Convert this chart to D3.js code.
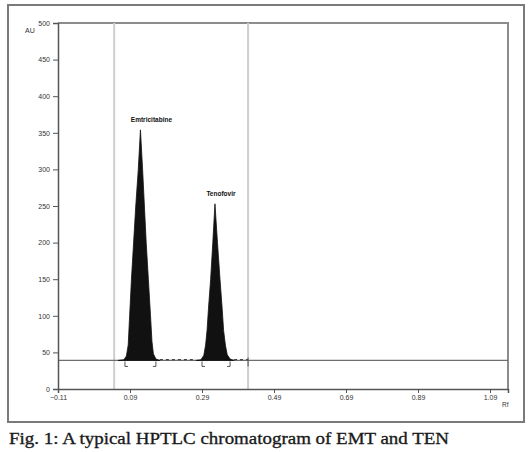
<!DOCTYPE html>
<html><head><meta charset="utf-8">
<script src="https://cdn.jsdelivr.net/npm/d3@7"></script>
<style>body{margin:0;background:#fff}svg{display:block}</style>
</head><body>
<svg id="c" width="532" height="452"></svg>
<script>
// ---- data ----
const yTicks = [0, 50, 100, 150, 200, 250, 300, 350, 400, 450, 500];
const xTicks = [-0.11, 0.09, 0.29, 0.49, 0.69, 0.89, 1.09];
const baselineAU = 39;
// chromatogram trace (Rf, AU) for the two peaks
const peak1Rf = [0.057,0.073,0.080,0.085,0.089,0.094,0.100,0.106,0.113,0.119,0.125,0.130,0.135,0.141,0.147,0.151,0.155,0.162,0.173];
const peak1AU = [39,40,45,60,100,150,200,250,300,354,300,250,200,150,100,65,48,41,39];
const peak2Rf = [0.273,0.287,0.295,0.300,0.304,0.308,0.314,0.320,0.326,0.333,0.340,0.346,0.350,0.355,0.360,0.368,0.379];
const peak2AU = [39,40,46,60,80,110,150,200,253,200,150,110,80,60,47,41,39];
const peakNames = ["Emtricitabine", "Tenofovir"];
const peakApexRf = [0.119, 0.326];
const peakApexAU = [354, 253];
const integStartRf = [0.076, 0.290];
const integEndRf = [0.162, 0.368];
const trackLinesRf = [0.046, 0.418];
const noiseRf = [[0.173, 0.273], [0.379, 0.418]];
const caption = "Fig. 1: A typical HPTLC chromatogram of EMT and TEN";

// ---- drawing ----
const svg = d3.select("#c");
const x = d3.scaleLinear().domain([-0.11, 1.14]).range([58, 508]);
const y = d3.scaleLinear().domain([0, 500]).range([389, 23]);

// outer frame
svg.append("rect").attr("x", 8).attr("y", 5).attr("width", 516).attr("height", 417)
  .attr("fill", "none").attr("stroke", "#7a7a7a").attr("stroke-width", 2);

// plot border (top/right)
svg.append("path")
  .attr("d", `M${x(-0.11)},${y(500)}H${x(1.14)}V${y(0)}`)
  .attr("fill", "none").attr("stroke", "#8c8c8c").attr("stroke-width", 2);

// track lines
svg.selectAll(".track").data(trackLinesRf).enter().append("line")
  .attr("x1", d => x(d)).attr("x2", d => x(d))
  .attr("y1", y(500)).attr("y2", y(0))
  .attr("stroke", "#cfcfcf").attr("stroke-width", 2);

// baseline
svg.append("line").attr("x1", x(-0.11)).attr("x2", x(1.14))
  .attr("y1", y(baselineAU)).attr("y2", y(baselineAU))
  .attr("stroke", "#6e6e6e").attr("stroke-width", 1.3);

// noise
svg.selectAll(".noise").data(noiseRf).enter().append("line")
  .attr("x1", d => x(d[0])).attr("x2", d => x(d[1]))
  .attr("y1", y(baselineAU + 1)).attr("y2", y(baselineAU + 1))
  .attr("stroke", "#444").attr("stroke-width", 1.2).attr("stroke-dasharray", "3,3");

// peaks
const area = d3.area().x(d => x(d[0])).y0(y(baselineAU)).y1(d => y(d[1]));
[[peak1Rf, peak1AU], [peak2Rf, peak2AU]].forEach(([rf, au]) => {
  const pts = rf.map((r, i) => [r, au[i]]);
  svg.append("path").datum(pts).attr("d", area)
    .attr("fill", "#111").attr("stroke", "#111").attr("stroke-width", 0.8);
});

// integration markers
const by = y(baselineAU);
integStartRf.forEach(r => {
  svg.append("path").attr("d", `M${x(r)},${by + 1}V${by + 6}h3`)
    .attr("fill", "none").attr("stroke", "#555").attr("stroke-width", 1);
});
integEndRf.forEach(r => {
  svg.append("path").attr("d", `M${x(r)},${by + 1}V${by + 6}h-3`)
    .attr("fill", "none").attr("stroke", "#555").attr("stroke-width", 1);
});
svg.append("line").attr("x1", x(trackLinesRf[1])).attr("x2", x(trackLinesRf[1]))
  .attr("y1", by - 3).attr("y2", by + 6).attr("stroke", "#555").attr("stroke-width", 1);

// peak labels
peakNames.forEach((n, i) => {
  svg.append("text").attr("x", x(peakApexRf[i]) + (i === 0 ? 11 : 6)).attr("y", y(peakApexAU[i]) - 8)
    .attr("text-anchor", "middle").attr("font-family", "Liberation Sans, Arial, sans-serif")
    .attr("font-size", 6.5).attr("font-weight", "bold").attr("fill", "#111").text(n);
});

// axes
const yAxis = d3.axisLeft(y).tickValues(yTicks).tickSize(5).tickFormat(d3.format("d"));
const gy = svg.append("g").attr("transform", `translate(${x(-0.11)},0)`).call(yAxis);
const xAxis = d3.axisBottom(x).tickValues(xTicks).tickSize(4).tickFormat(d3.format(".2f"));
const gx = svg.append("g").attr("transform", `translate(0,${y(0)})`).call(xAxis);
[gy, gx].forEach(g => {
  g.select(".domain").attr("stroke", "#555").attr("stroke-width", 1.5);
  g.selectAll(".tick line").attr("stroke", "#555");
  g.selectAll("text").attr("font-family", "Liberation Sans, Arial, sans-serif")
    .attr("font-size", 7).attr("fill", "#333");
});
gx.selectAll("text").attr("dy", "0.6em");

svg.append("text").attr("x", 25).attr("y", 33).attr("font-family", "Liberation Sans, Arial, sans-serif")
  .attr("font-size", 7).attr("fill", "#333").text("AU");
svg.append("text").attr("x", 502).attr("y", 407).attr("font-family", "Liberation Sans, Arial, sans-serif")
  .attr("font-size", 6.5).attr("fill", "#333").text("Rf");

// caption
svg.append("text").attr("x", 9).attr("y", 444)
  .attr("font-family", "Liberation Serif, Times New Roman, serif")
  .attr("font-size", 17.5).attr("fill", "#1a1a1a")
  .attr("stroke", "#1a1a1a").attr("stroke-width", 0.35)
  .attr("textLength", 440).attr("lengthAdjust", "spacingAndGlyphs")
  .text(caption);
</script>
</body></html>
